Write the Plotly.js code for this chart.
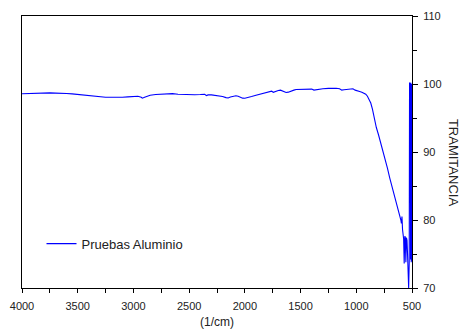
<!DOCTYPE html>
<html>
<head>
<meta charset="utf-8">
<script src="https://cdn.plot.ly/plotly-3.0.1.min.js"></script>
<style>html,body{margin:0;padding:0;background:#fff;}#chart{width:463px;height:329px;}</style>
</head>
<body>
<div id="chart"></div>
<script>
const seriesName = "Pruebas Aluminio";
const xTitle = "(1/cm)";
const yTitle = "TRAMITANCIA";
const wavenumber = [4000,3950,3900,3850,3800,3750,3700,3650,3600,3550,3500,3450,3400,3350,3300,3250,3200,3150,3100,3050,3000,2960,2930,2920,2900,2870,2850,2800,2750,2700,2650,2600,2550,2500,2450,2400,2360,2345,2330,2300,2250,2200,2170,2150,2130,2100,2080,2060,2040,2020,2000,1980,1960,1940,1900,1850,1800,1760,1745,1730,1700,1680,1650,1630,1610,1590,1560,1540,1500,1460,1420,1400,1380,1350,1320,1300,1250,1200,1180,1150,1130,1110,1080,1050,1030,1010,990,970,950,930,915,900,885,870,855,840,820,800,780,760,740,720,700,680,660,640,625,610,600,595,590,585,580,575,570,565,560,555,550,545,540,535,530,525,522,519,516,513,510,507,504,501];
const transmittance = [98.56,98.6,98.58,98.65,98.62,98.7,98.66,98.68,98.6,98.55,98.45,98.35,98.25,98.15,98.08,98.05,98.05,98.03,98.05,98.1,98.15,98.2,98.05,97.92,98.05,98.25,98.35,98.45,98.5,98.55,98.58,98.5,98.45,98.4,98.42,98.45,98.5,98.3,98.4,98.4,98.3,98.15,98.0,97.95,98.1,98.25,98.27,98.2,98.05,97.92,97.9,97.95,98.05,98.15,98.35,98.6,98.8,98.95,98.78,98.9,99.05,99.1,98.95,98.75,98.8,98.95,99.1,99.2,99.2,99.25,99.2,99.25,99.1,99.2,99.3,99.3,99.35,99.4,99.38,99.3,99.1,99.15,99.2,99.35,99.3,99.1,98.95,98.9,98.8,98.6,98.5,98.2,97.8,97.2,96.3,95.0,93.6,92.5,91.3,90.3,89.1,87.6,86.2,85.0,83.8,82.7,81.6,80.6,80.0,79.5,80.5,78.6,78.1,77.2,73.6,77.6,77.5,73.8,77.4,77.0,75.0,70.0,70.0,73.7,100.2,74,100.1,74.2,100.2,73.8,100,74];
const xTickVals = [4000,3500,3000,2500,2000,1500,1000,500];
const yTickVals = [70,80,90,100,110];

const font = "Arial, 'Liberation Sans', sans-serif";
const trace = {
  x: wavenumber, y: transmittance, type: 'scatter', mode: 'lines',
  name: seriesName, line: {color: '#0000FF', width: 1.1}
};
const layout = {
  width: 463, height: 329,
  margin: {l: 22, r: 51, t: 16, b: 41},
  paper_bgcolor: '#fff', plot_bgcolor: '#fff',
  font: {family: font, color: '#222', size: 11},
  showlegend: true,
  legend: {x: 0.05, y: 0.163, xanchor: 'left', yanchor: 'middle', bgcolor: 'rgba(0,0,0,0)',
           borderwidth: 0, font: {size: 13, family: font, color: '#222'}},
  xaxis: {
    range: [4000, 500], tickvals: xTickVals, ticks: 'outside', ticklen: 4, tickcolor: '#000',
    ticklabelstandoff: 4,
    showline: true, linecolor: '#000', linewidth: 1, mirror: true, showgrid: false, zeroline: false,
    minor: {dtick: 250, ticks: 'outside', ticklen: 4, tickcolor: '#000', showgrid: false},
    tickfont: {size: 11, family: font, color: '#222'},
    title: {text: xTitle, font: {size: 12, family: font, color: '#222'}, standoff: 6}
  },
  yaxis: {
    range: [70, 110], tickvals: yTickVals, side: 'right', ticks: 'outside', ticklen: 5, tickcolor: '#000',
    ticklabelstandoff: 3,
    showline: true, linecolor: '#000', linewidth: 1, mirror: true, showgrid: false, zeroline: false,
    minor: {dtick: 5, ticks: 'outside', ticklen: 4, tickcolor: '#000', showgrid: false},
    tickfont: {size: 11, family: font, color: '#222'}
  },
  annotations: [{
    text: yTitle, xref: 'paper', yref: 'paper', x: 1.105, y: 0.46, xanchor: 'center', yanchor: 'middle',
    textangle: 90, showarrow: false, font: {size: 13, family: font, color: '#222'}
  }]
};
Plotly.newPlot('chart', [trace], layout, {displayModeBar: false, staticPlot: true});
</script>
</body>
</html>
